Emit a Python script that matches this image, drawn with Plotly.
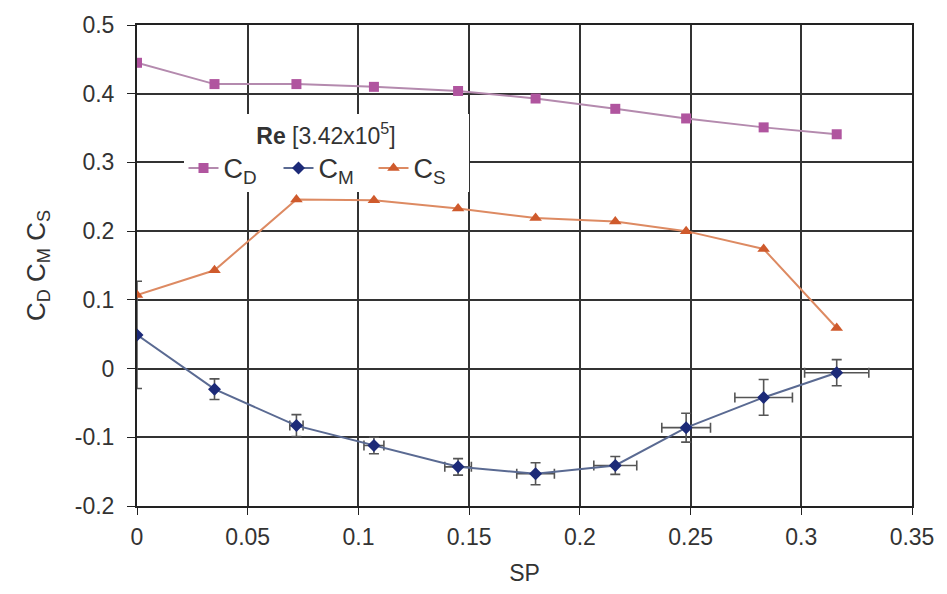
import plotly.graph_objects as go

sp = [0.0, 0.035, 0.072, 0.107, 0.145, 0.180, 0.216, 0.248, 0.283, 0.316]
cd = [0.445, 0.414, 0.414, 0.410, 0.404, 0.393, 0.378, 0.364, 0.351, 0.341]
cs = [0.107, 0.143, 0.246, 0.245, 0.233, 0.219, 0.214, 0.200, 0.174, 0.059]
cm = [0.049, -0.030, -0.083, -0.112, -0.143, -0.153, -0.141, -0.086, -0.042, -0.006]
cm_yerr = [0.078, 0.015, 0.016, 0.012, 0.012, 0.016, 0.013, 0.021, 0.026, 0.019]
cm_xerr = [0.0, 0.0, 0.003, 0.0045, 0.006, 0.0085, 0.0097, 0.011, 0.013, 0.0145]

x_ticks = [0, 0.05, 0.1, 0.15, 0.2, 0.25, 0.3, 0.35]
y_ticks = [-0.2, -0.1, 0, 0.1, 0.2, 0.3, 0.4, 0.5]

FONT = "Liberation Sans, Arial, sans-serif"

fig = go.Figure()
fig.add_trace(go.Scatter(
    x=sp, y=cd, mode="lines+markers", name="C<sub>D</sub>",
    line=dict(color="#b48aae", width=2),
    marker=dict(symbol="square", size=10, color="#b0559f"),
))
fig.add_trace(go.Scatter(
    x=sp, y=cm, mode="lines+markers", name="C<sub>M</sub>",
    line=dict(color="#5a6a92", width=2),
    marker=dict(symbol="diamond", size=10, color="#1c2a78"),
    error_y=dict(type="data", array=cm_yerr, visible=True, color="#555555", thickness=1.6, width=5),
    error_x=dict(type="data", array=cm_xerr, visible=True, color="#555555", thickness=1.6, width=5),
))
fig.add_trace(go.Scatter(
    x=sp, y=cs, mode="lines+markers", name="C<sub>S</sub>",
    line=dict(color="#dd8a62", width=2),
    marker=dict(symbol="triangle-up", size=11, color="#cf5a2c"),
))

fig.update_layout(
    width=947, height=594,
    margin=dict(l=137, r=35, t=22, b=88),
    paper_bgcolor="white", plot_bgcolor="white",
    font=dict(family=FONT, size=23, color="#333333"),
    showlegend=True,
    legend=dict(
        orientation="h",
        x=0.06, y=0.815, xanchor="left", yanchor="top",
        bgcolor="white",
        font=dict(size=27, color="#333333"),
        title=dict(text="<b>Re</b> [3.42x10<sup>5</sup>]", side="top center",
                   font=dict(size=23, color="#333333")),
        itemwidth=30,
        entrywidth=50,
        entrywidthmode="pixels",
        tracegroupgap=0,
    ),
    xaxis=dict(
        range=[0, 0.35], tickvals=x_ticks, ticktext=[f"{v:g}" for v in x_ticks],
        showgrid=True, gridcolor="#333333", gridwidth=2,
        showline=True, linecolor="#222222", linewidth=2, mirror=True,
        ticks="outside", ticklen=7, tickcolor="#222222",
        ticklabelstandoff=2,
        zeroline=False,
        title=dict(text="SP", font=dict(size=23), standoff=16),
    ),
    yaxis=dict(
        range=[-0.2, 0.5], tickvals=y_ticks, ticktext=[f"{v:g}" for v in y_ticks],
        showgrid=True, gridcolor="#333333", gridwidth=2,
        showline=True, linecolor="#222222", linewidth=2, mirror=True,
        ticks="outside", ticklen=8, tickcolor="#222222",
        ticklabelstandoff=8,
        zeroline=False,
        title=dict(text="C<sub>D</sub> C<sub>M</sub> C<sub>S</sub>", font=dict(size=26), standoff=22),
    ),
)

fig.write_html("out.html")
